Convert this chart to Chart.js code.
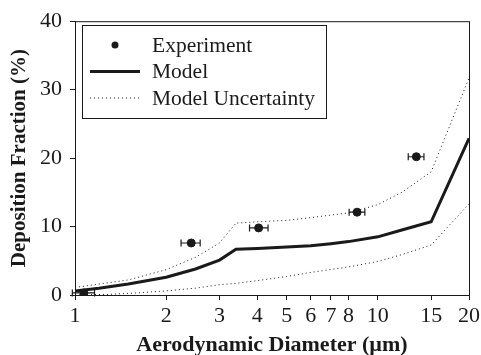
<!DOCTYPE html>
<html>
<head>
<meta charset="utf-8">
<script src="https://cdn.jsdelivr.net/npm/chart.js@4"></script>
<style>
  body { margin: 0; background: #fff; }
  #wrap { width: 481px; height: 355px; }
</style>
</head>
<body>
<div id="wrap"><canvas id="myChart" width="481" height="355"></canvas></div>
<script>
// experiment points with horizontal error bars
const expX = [1.07, 2.42, 4.04, 8.54, 13.4];
const expY = [0.3, 7.6, 9.8, 12.1, 20.2];
const expXLow = [0.98, 2.24, 3.77, 8.04, 12.6];
const expXHigh = [1.16, 2.59, 4.34, 9.06, 14.2];

// model curve
const modelX = [1, 1.2, 1.5, 2, 2.5, 3, 3.4, 4, 5, 6, 7, 8, 10, 12, 15, 20];
const modelY = [0.6, 1.0, 1.6, 2.6, 3.8, 5.1, 6.7, 6.8, 7.0, 7.2, 7.5, 7.8, 8.5, 9.5, 10.7, 22.9];

// model uncertainty band
const upperX = [1, 1.5, 2, 2.5, 3, 3.4, 4, 5, 6, 8, 10, 12, 15, 20];
const upperY = [1.1, 2.2, 3.7, 5.5, 7.6, 10.5, 10.7, 10.9, 11.3, 12.0, 13.2, 15.0, 18.0, 31.7];
const lowerX = [1, 1.3, 1.6, 2, 2.5, 3, 3.4, 4, 5, 6, 8, 10, 12, 15, 20];
const lowerY = [0, 0.1, 0.3, 0.6, 1.0, 1.5, 1.7, 2.1, 2.7, 3.3, 4.1, 4.9, 5.9, 7.3, 13.3];

const xTicks = [1, 2, 3, 4, 5, 6, 7, 8, 10, 15, 20];
const yTicks = [0, 10, 20, 30, 40];

const serif = "'Liberation Serif', 'Times New Roman', serif";
const ink = "#1a1a1a";

function pts(xs, ys) {
  return xs.map((x, i) => ({x: x, y: ys[i]}));
}

const errorBars = {
  id: 'errorBars',
  afterDatasetsDraw(chart) {
    const xs = chart.scales.x, ys = chart.scales.y;
    const ctx = chart.ctx;
    ctx.save();
    ctx.strokeStyle = ink;
    ctx.lineWidth = 1.2;
    for (let i = 0; i < expX.length; i++) {
      const y = ys.getPixelForValue(expY[i]);
      const a = xs.getPixelForValue(expXLow[i]);
      const b = xs.getPixelForValue(expXHigh[i]);
      ctx.beginPath();
      ctx.moveTo(a, y); ctx.lineTo(b, y);
      ctx.moveTo(a, y - 3.5); ctx.lineTo(a, y + 3.5);
      ctx.moveTo(b, y - 3.5); ctx.lineTo(b, y + 3.5);
      ctx.stroke();
    }
    ctx.restore();
  }
};

const frame = {
  id: 'frame',
  afterDraw(chart) {
    const a = chart.chartArea, ctx = chart.ctx;
    ctx.save();
    ctx.strokeStyle = ink;
    ctx.lineWidth = 1;
    ctx.strokeRect(a.left + 0.5, a.top + 0.5, a.right - a.left, a.bottom - a.top);
    ctx.restore();
  }
};

const boxLegend = {
  id: 'boxLegend',
  afterDraw(chart) {
    const ctx = chart.ctx;
    const items = chart.data.datasets.filter(d => d.label);
    const x0 = 82, y0 = 25, w = 244, h = 93, row = 26.5;
    ctx.save();
    ctx.strokeStyle = ink;
    ctx.lineWidth = 1;
    ctx.strokeRect(x0 + 0.5, y0 + 0.5, w, h);
    ctx.font = "21.5px " + serif;
    ctx.fillStyle = ink;
    ctx.textBaseline = 'middle';
    items.forEach((d, i) => {
      const y = y0 + 20 + i * row;
      if (d.showLine === false) {
        ctx.beginPath();
        ctx.arc(115, y, 3.5, 0, Math.PI * 2);
        ctx.fill();
      } else {
        ctx.beginPath();
        ctx.lineWidth = d.borderWidth;
        ctx.setLineDash(d.borderDash || []);
        ctx.moveTo(90, y); ctx.lineTo(140, y);
        ctx.stroke();
        ctx.setLineDash([]);
      }
      ctx.fillText(d.label, 152, y + 1);
    });
    ctx.restore();
  }
};

new Chart("myChart", {
  type: "scatter",
  data: {
    datasets: [
      {
        label: "Experiment",
        data: pts(expX, expY),
        showLine: false,
        pointRadius: 4,
        pointBackgroundColor: ink,
        pointBorderColor: ink,
        order: 0
      },
      {
        label: "Model",
        data: pts(modelX, modelY),
        showLine: true,
        borderColor: ink,
        borderWidth: 3,
        pointRadius: 0,
        tension: 0
      },
      {
        label: "Model Uncertainty",
        data: pts(upperX, upperY),
        showLine: true,
        borderColor: ink,
        borderWidth: 1,
        borderDash: [1, 3],
        pointRadius: 0,
        tension: 0
      },
      {
        label: "",
        data: pts(lowerX, lowerY),
        showLine: true,
        borderColor: ink,
        borderWidth: 1,
        borderDash: [1, 3],
        pointRadius: 0,
        tension: 0
      }
    ]
  },
  options: {
    responsive: false,
    animation: false,
    layout: { padding: { left: 0, top: 20, right: 12, bottom: 0 } },
    plugins: {
      legend: { display: false },
      tooltip: { enabled: false }
    },
    scales: {
      x: {
        type: "logarithmic",
        min: 1,
        max: 20,
        afterBuildTicks: (s) => { s.ticks = xTicks.map(v => ({value: v})); },
        afterFit: (s) => { s.height = 60; s.paddingRight = 11; },
        ticks: {
          autoSkip: false,
          maxRotation: 0,
          padding: 5,
          color: ink,
          font: { family: serif, size: 22, lineHeight: 1 },
          callback: (v) => String(v)
        },
        grid: { drawOnChartArea: false, drawTicks: true, tickLength: 5, color: ink },
        border: { display: true, color: ink },
        title: {
          display: true,
          text: "Aerodynamic Diameter (µm)",
          color: ink,
          font: { family: serif, size: 22, weight: "bold", lineHeight: 1 },
          padding: { top: 0, bottom: -1 }
        }
      },
      y: {
        min: 0,
        max: 40,
        afterBuildTicks: (s) => { s.ticks = yTicks.map(v => ({value: v})); },
        afterFit: (s) => { s.width = 75; },
        ticks: {
          padding: 8,
          color: ink,
          font: { family: serif, size: 22 }
        },
        grid: { drawOnChartArea: false, drawTicks: true, tickLength: 5, color: ink },
        border: { display: true, color: ink },
        title: {
          display: true,
          text: "Deposition Fraction (%)",
          color: ink,
          font: { family: serif, size: 21, weight: "bold", lineHeight: 1 },
          padding: { top: 9, bottom: 0 }
        }
      }
    }
  },
  plugins: [errorBars, frame, boxLegend]
});
</script>
</body>
</html>
